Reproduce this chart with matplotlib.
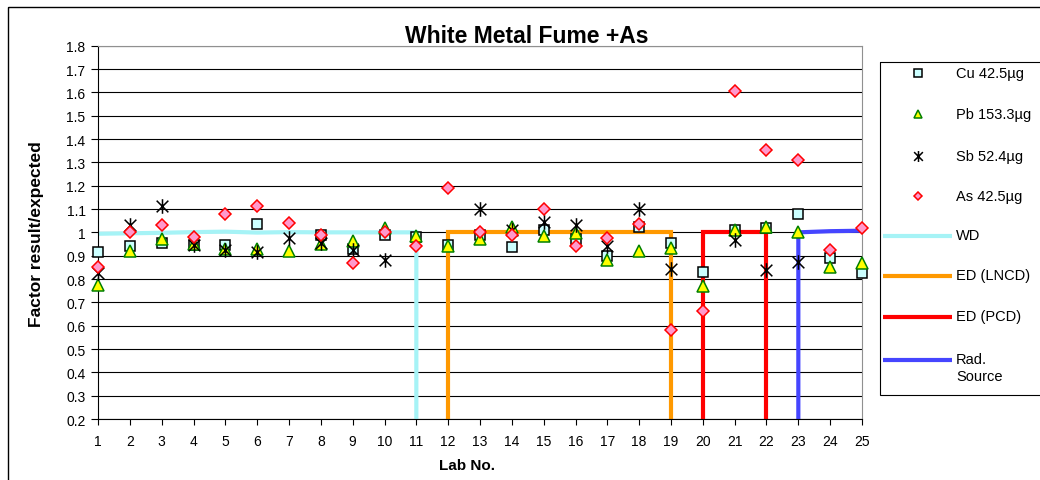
import numpy as np
import matplotlib
matplotlib.use("Agg")
import matplotlib.pyplot as plt
from matplotlib.path import Path
from matplotlib.patches import Rectangle

plt.rcParams['font.family'] = ['Liberation Sans', 'DejaVu Sans']

# ---------------- data ----------------
labs = list(range(1, 26))
nan = np.nan
cu = [0.917, 0.943, 0.955, 0.945, 0.945, 1.035, nan, 0.99, 0.93, 0.99, 0.98, 0.946, 0.99,
      0.936, 1.01, 0.97, 0.90, 1.024, 0.955, 0.83, 1.01, 1.019, 1.08, 0.89, 0.826]
pb = [0.775, 0.92, 0.97, 0.95, 0.93, 0.93, 0.92, 0.95, 0.965, 1.02, 0.985, 0.94, 0.97,
      1.025, 0.985, 0.997, 0.88, 0.92, 0.935, 0.77, 1.01, 1.025, 1.0, 0.85, 0.87]
sb = [0.825, 1.03, 1.115, 0.945, 0.925, 0.915, 0.975, 0.955, 0.925, 0.88, nan, nan, 1.10,
      1.01, 1.045, 1.03, 0.943, 1.10, 0.845, nan, 0.966, 0.84, 0.875, nan, nan]
as_ = [0.85, 1.0, 1.03, 0.98, 1.08, 1.115, 1.04, 0.99, 0.867, 1.0, 0.943, 1.19, 1.0,
       0.99, 1.10, 0.943, 0.975, 1.035, 0.58, 0.665, 1.607, 1.355, 1.312, 0.926, 1.02]

series_labels = ["Cu 42.5µg", "Pb 153.3µg", "Sb 52.4µg", "As 42.5µg"]

# method ranges (step lines)
wd_x = [1, 2, 3, 4, 5, 6, 7, 8, 9, 10, 11, 11]
wd_y = [0.994, 0.996, 0.998, 1.001, 1.003, 0.999, 1.001, 1.0, 1.0, 1.0, 1.0, 0.0]
lncd_x = [12, 12, 13, 14, 15, 16, 17, 18, 19, 19]
lncd_y = [0.0, 1.0, 1.0, 1.0, 1.0, 1.0, 1.0, 1.0, 1.0, 0.0]
pcd_x = [20, 20, 21, 22, 22]
pcd_y = [0.0, 1.0, 1.0, 1.0, 0.0]
rad_x = [23, 23, 24, 25]
rad_y = [0.0, 1.0, 1.005, 1.007]
line_labels = ["WD", "ED (LNCD)", "ED (PCD)", "Rad.\nSource"]

title = "White Metal Fume +As"
xlabel = "Lab No."
ylabel = "Factor result/expected"
yticks = [0.2, 0.3, 0.4, 0.5, 0.6, 0.7, 0.8, 0.9, 1.0, 1.1, 1.2, 1.3, 1.4, 1.5, 1.6, 1.7, 1.8]
ytick_labels = ["0.2", "0.3", "0.4", "0.5", "0.6", "0.7", "0.8", "0.9", "1",
                "1.1", "1.2", "1.3", "1.4", "1.5", "1.6", "1.7", "1.8"]

# ---------------- style ----------------
W, H = 1040, 481
fig = plt.figure(figsize=(W / 100, H / 100), dpi=100)

def fx(px):
    return px / W

def fy(py):
    return 1 - py / H

left, right, top, bottom = 98, 862, 46.7, 420
ax = fig.add_axes([fx(left), fy(bottom), fx(right - left), (bottom - top) / H])

C_WD = '#a6f3f6'
C_LNCD = '#ff9900'
C_PCD = '#ff0000'
C_RAD = '#4545ff'
line_cols = [C_WD, C_LNCD, C_PCD, C_RAD]

star = Path([(-1, -1), (1, 1), (-1, 1), (1, -1), (0, -1.25), (0, 1.25)],
            [Path.MOVETO, Path.LINETO, Path.MOVETO, Path.LINETO, Path.MOVETO, Path.LINETO])

mk = [
    dict(marker='s', ms=7.2, mfc='#ccffff', mec='black', mew=1.1),
    dict(marker='^', ms=8.0, mfc='#ffff00', mec='#008000', mew=1.1),
    dict(marker=star, ms=10.5, mfc='none', mec='black', mew=1.1),
    dict(marker='D', ms=6.0, mfc='#ff99cc', mec='#ff0000', mew=1.1),
]

for xs, ys, c in zip([wd_x, lncd_x, pcd_x, rad_x], [wd_y, lncd_y, pcd_y, rad_y], line_cols):
    ax.plot(xs, ys, color=c, lw=3.0, solid_capstyle='butt', solid_joinstyle='miter', zorder=2)

for vals, m in zip([cu, pb, sb, as_], mk):
    ax.plot(labs, vals, linestyle='none', zorder=3, clip_on=False, **m)

ax.set_xlim(1, 25)
ax.set_ylim(0.2, 1.8)
ax.set_xticks(labs)
ax.set_xticklabels([str(l) for l in labs], fontsize=10)
ax.set_yticks(yticks)
ax.set_yticklabels(ytick_labels, fontsize=10)
ax.tick_params(axis='x', direction='out', length=4.5, width=0.8, pad=6)
ax.tick_params(axis='y', direction='out', length=5, width=0.8, pad=4)
ax.grid(axis='y', color='black', lw=0.8, zorder=0)
ax.set_axisbelow(True)
for s in ['left', 'bottom']:
    ax.spines[s].set_color('black')
    ax.spines[s].set_linewidth(0.8)
for s in ['top', 'right']:
    ax.spines[s].set_color('#909090')
    ax.spines[s].set_linewidth(0.8)

# titles
fig.text(fx(527), fy(36.5), title, ha='center', va='center', fontsize=16.5, fontweight='bold')
fig.text(fx(467), fy(466), xlabel, ha='center', va='center', fontsize=11, fontweight='bold')
fig.text(fx(37), fy(234), ylabel, ha='center', va='center', rotation=90, fontsize=12.5,
         fontweight='bold')

# overlay in pixel coordinates for frame + legend
ov = fig.add_axes([0, 0, 1, 1], zorder=5)
ov.set_xlim(0, W)
ov.set_ylim(H, 0)
ov.axis('off')
ov.patch.set_alpha(0)
ov.add_patch(Rectangle((7.5, 7.5), 1100, 600, fill=False, ec='black', lw=1.0, clip_on=False))
ov.add_patch(Rectangle((880, 63), 300, 333, fill=False, ec='black', lw=0.8, clip_on=False))

row_y = [74, 115, 157, 197]
for lab, m, yy in zip(series_labels, mk, row_y):
    mm = dict(m)
    mm['ms'] = m['ms'] * 0.75
    ov.plot([918], [yy], linestyle='none', **mm)
    ov.text(956, yy, lab, ha='left', va='center', fontsize=10.5)
line_row_y = [237, 277, 318, 361]
for lab, c, yy in zip(line_labels, line_cols, line_row_y):
    ov.plot([883, 952], [yy, yy], color=c, lw=3.0, solid_capstyle='butt')
    ov.text(956, yy - 8, lab, ha='left', va='top', fontsize=10.5, linespacing=1.3)

fig.savefig('out.png', dpi=100)
